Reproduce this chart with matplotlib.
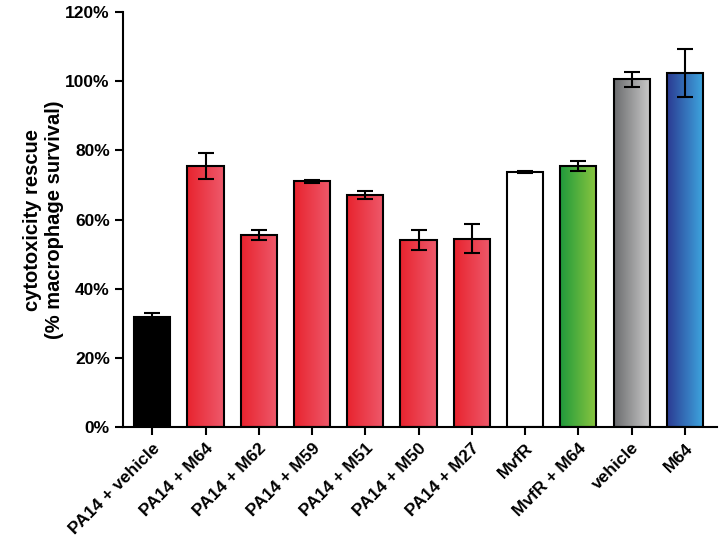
import numpy as np
import matplotlib.pyplot as plt
from matplotlib.colors import LinearSegmentedColormap

plt.rcParams['font.family'] = ['Liberation Sans', 'DejaVu Sans']
plt.rcParams['font.weight'] = 'bold'

# données
labels = ["PA14 + vehicle", "PA14 + M64", "PA14 + M62", "PA14 + M59",
          "PA14 + M51", "PA14 + M50", "PA14 + M27", "MvfR",
          "MvfR + M64", "vehicle", "M64"]
values = [31.9, 75.5, 55.5, 71.0, 67.0, 54.0, 54.5, 73.8, 75.5, 100.5, 102.3]
errors = [1.1, 3.8, 1.4, 0.5, 1.1, 2.9, 4.3, 0.3, 1.5, 2.1, 7.0]

# couleurs de dégradé (gauche, droite) pour chaque barre
gradients = [("#000000", "#000000")] + [("#E8232E", "#EE5A6C")] * 6 + [
    ("#FFFFFF", "#FFFFFF"), ("#1F9A3C", "#8CC63F"),
    ("#6B6C6E", "#CBCBCB"), ("#2B3A92", "#3EA8E0")]

fig = plt.figure(figsize=(7.19, 5.42), dpi=100)
ax = fig.add_axes([0.171, 0.212, 0.826, 0.766])

x = np.arange(len(labels))
width = 0.68
bars = ax.bar(x, values, width=width, facecolor='none', edgecolor='black',
              linewidth=1.5, zorder=3)

# remplir chaque barre avec un dégradé horizontal
grad = np.linspace(0, 1, 256).reshape(1, -1)
for bar, (c1, c2) in zip(bars, gradients):
    cmap = LinearSegmentedColormap.from_list("g", [c1, c2])
    x0 = bar.get_x()
    im = ax.imshow(grad, cmap=cmap, aspect='auto', zorder=2,
                   extent=[x0, x0 + bar.get_width(), 0, bar.get_height()])
    im.set_clip_path(bar)

ax.errorbar(x, values, yerr=errors, fmt='none', ecolor='black',
            elinewidth=1.5, capsize=6, capthick=1.5, zorder=4)

ax.set_xlim(-0.55, 10.6)
ax.set_ylim(0, 120)
ax.set_yticks(np.arange(0, 121, 20))
ax.set_yticklabels([f"{v}%" for v in range(0, 121, 20)], fontsize=12.5,
                   fontweight='bold')
ax.set_xticks(x)
ax.set_xticklabels(labels, rotation=45, ha='right', rotation_mode='anchor',
                   fontsize=12.5, fontweight='bold')
ax.set_ylabel("cytotoxicity rescue\n(% macrophage survival)", fontsize=14.5,
              fontweight='bold', labelpad=1)

for side in ['top', 'right']:
    ax.spines[side].set_visible(False)
for side in ['left', 'bottom']:
    ax.spines[side].set_linewidth(1.5)
ax.tick_params(width=1.5, length=6)

fig.savefig("out.png", dpi=100)
